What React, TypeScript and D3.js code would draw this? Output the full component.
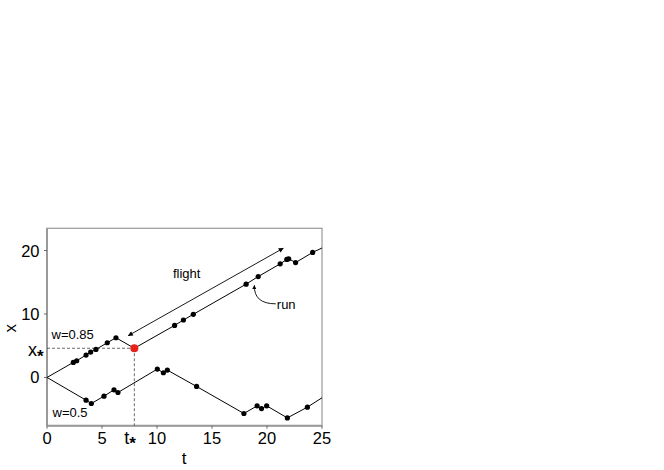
import React from 'react';
import * as d3 from 'd3';

// w=0.85 walk: turning points and renewal events (t, x)
const upperT = [0, 2.39, 2.7, 3.55, 3.97, 4.45, 5.48, 6.27, 7.94, 11.6, 12.4, 13.3, 18.1, 19.2, 21.2, 21.8, 21.97, 22.6, 24.15, 25];
const upperX = [0, 2.37, 2.63, 3.53, 4.0, 4.42, 5.47, 6.26, 4.6, 8.2, 9.05, 9.95, 14.7, 15.9, 17.9, 18.6, 18.7, 18.1, 19.7, 20.4];

// w=0.5 walk
const lowerT = [0, 3.55, 4.03, 5.18, 6.09, 6.45, 10.03, 10.58, 10.94, 13.6, 17.9, 19.1, 19.5, 19.97, 21.85, 23.67, 25];
const lowerX = [0, -3.58, -4.1, -2.95, -1.95, -2.37, 1.32, 0.74, 1.16, -1.42, -5.68, -4.47, -4.9, -4.47, -6.37, -4.68, -3.2];

const tTicks = [0, 5, 10, 15, 20, 25];
const xTicks = [0, 10, 20];

const tStar = 7.94;
const xStar = 4.6;

// annotations in data units
const flightFrom = [7.39, 6.59];
const flightTo = [21.48, 20.36];
const flightLabel = [12.7, 15.6];
const runFrom = [20.8, 11.6];
const runCtrl = [18.8, 11.6];
const runTo = [18.85, 14.5];

const W = 664;
const H = 470;

export default function App() {
  const x = d3.scaleLinear().domain([0, 25]).range([47, 322]);
  const y = d3.scaleLinear().domain([-7.6, 23.5]).range([425.7, 228.3]);

  const upper = upperT.map((t, i) => [t, upperX[i]] as [number, number]);
  const lower = lowerT.map((t, i) => [t, lowerX[i]] as [number, number]);

  const line = d3
    .line<[number, number]>()
    .x((d) => x(d[0]))
    .y((d) => y(d[1]));

  // inner points get markers; start/end and the red point don't
  const upperDots = upper.slice(1, -1).filter((d) => d[0] !== tStar);
  const lowerDots = lower.slice(1, -1);

  const font = 'Liberation Sans, Arial, sans-serif';
  const [x0, y0] = [x.range()[0], y.range()[0]];
  const [x1, y1] = [x.range()[1], y.range()[1]];

  const runPath = d3.path();
  runPath.moveTo(x(runFrom[0]), y(runFrom[1]));
  runPath.quadraticCurveTo(x(runCtrl[0]), y(runCtrl[1]), x(runTo[0]), y(runTo[1]));

  return (
    <svg
      width={W}
      height={H}
      style={{ position: 'absolute', left: 0, top: 0, background: '#fff' }}
      fontFamily={font}
    >
      <defs>
        <marker id="ah" viewBox="0 0 10 10" refX="9" refY="5" markerWidth="7" markerHeight="5" orient="auto-start-reverse" markerUnits="userSpaceOnUse">
          <path d="M0,0 L10,5 L0,10 z" fill="#000" />
        </marker>
        <marker id="ah2" viewBox="0 0 10 10" refX="9" refY="5" markerWidth="5" markerHeight="4" orient="auto" markerUnits="userSpaceOnUse">
          <path d="M0,0 L10,5 L0,10 z" fill="#000" />
        </marker>
      </defs>

      {/* frame */}
      <rect x={x0} y={y1} width={x1 - x0} height={y0 - y1} fill="none" stroke="#a0a0a0" strokeWidth={1.3} />
      <line x1={x0} x2={x0} y1={y1} y2={y0} stroke="#999" strokeWidth={2} />
      <line x1={x0} x2={x1} y1={y0} y2={y0} stroke="#999" strokeWidth={2} />

      {/* ticks */}
      {tTicks.map((t) => (
        <g key={'t' + t}>
          <line x1={x(t)} x2={x(t)} y1={y0} y2={y0 + 3} stroke="#666" strokeWidth={1} />
          <text x={x(t)} y={444} textAnchor="middle" fontSize={16.5}>
            {t}
          </text>
        </g>
      ))}
      {xTicks.map((v) => (
        <g key={'x' + v}>
          <line x1={x0 - 3} x2={x0} y1={y(v)} y2={y(v)} stroke="#666" strokeWidth={1} />
          <text x={39.5} y={y(v) + 6} textAnchor="end" fontSize={16.5}>
            {v}
          </text>
        </g>
      ))}

      {/* x*, t* labels */}
      <text x={28} y={y(xStar) + 8} fontSize={18}>
        x<tspan fontSize={17} fontWeight="bold" dy={6}>*</tspan>
      </text>
      <text x={x(tStar) - 10} y={443.5} fontSize={18}>
        t<tspan fontSize={17} fontWeight="bold" dy={5}>*</tspan>
      </text>

      {/* axis titles */}
      <text x={184} y={464} textAnchor="middle" fontSize={17}>
        t
      </text>
      <text transform={`translate(16,${y(4.6) - 20}) rotate(-90)`} textAnchor="middle" fontSize={17}>
        x
      </text>

      {/* dashed guides */}
      <line x1={x0} x2={x(tStar)} y1={y(xStar)} y2={y(xStar)} stroke="#444" strokeWidth={0.8} strokeDasharray="3,2" />
      <line x1={x(tStar)} x2={x(tStar)} y1={y(xStar)} y2={y0} stroke="#444" strokeWidth={0.8} strokeDasharray="3,2" />

      {/* walks */}
      <path d={line(upper) ?? ''} fill="none" stroke="#000" strokeWidth={1} />
      <path d={line(lower) ?? ''} fill="none" stroke="#000" strokeWidth={1} />
      {upperDots.map((d, i) => (
        <circle key={'u' + i} cx={x(d[0])} cy={y(d[1])} r={2.6} fill="#000" />
      ))}
      {lowerDots.map((d, i) => (
        <circle key={'l' + i} cx={x(d[0])} cy={y(d[1])} r={2.6} fill="#000" />
      ))}
      <circle cx={x(tStar)} cy={y(xStar)} r={4} fill="#e5231b" />

      {/* flight arrow */}
      <line
        x1={x(flightFrom[0])}
        y1={y(flightFrom[1])}
        x2={x(flightTo[0])}
        y2={y(flightTo[1])}
        stroke="#000"
        strokeWidth={0.9}
        markerStart="url(#ah)"
        markerEnd="url(#ah)"
      />
      <text x={x(flightLabel[0])} y={y(flightLabel[1])} textAnchor="middle" fontSize={13}>
        flight
      </text>

      {/* run arrow */}
      <path d={runPath.toString()} fill="none" stroke="#000" strokeWidth={0.9} markerEnd="url(#ah2)" />
      <text x={x(runFrom[0]) + 1} y={308.5} fontSize={13}>
        run
      </text>

      <text x={51.5} y={338.5} fontSize={13}>
        w=0.85
      </text>
      <text x={52.5} y={417} fontSize={13}>
        w=0.5
      </text>
    </svg>
  );
}
